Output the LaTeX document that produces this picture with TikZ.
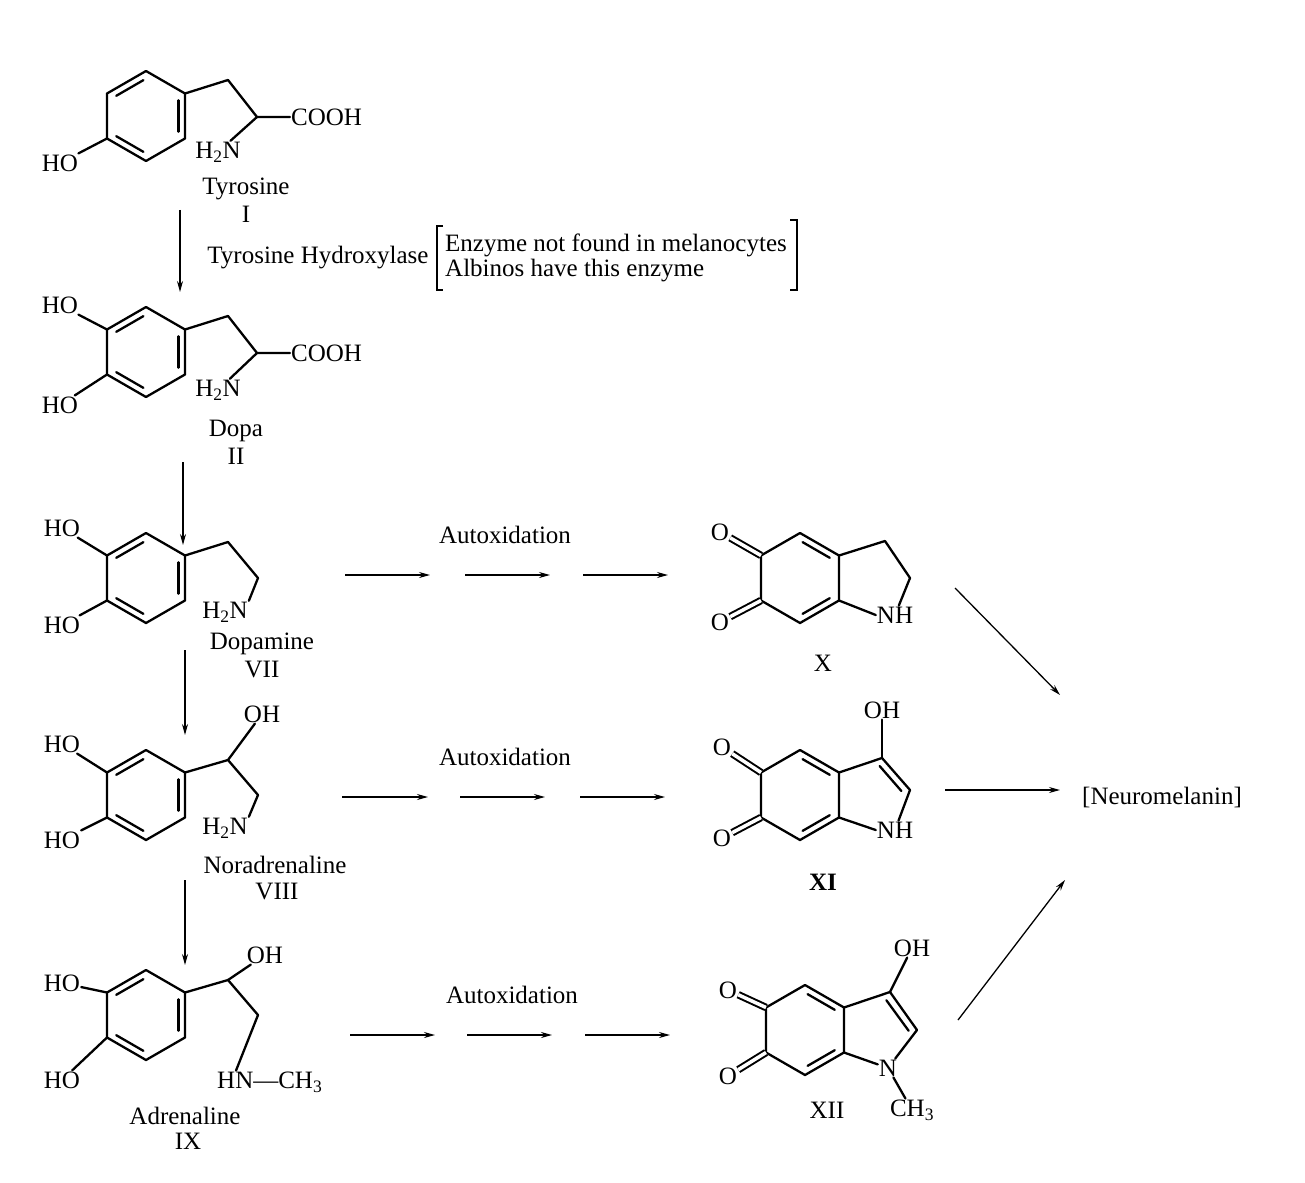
\documentclass[tikz,border=0pt]{standalone}
\usepackage{fontspec}
\setmainfont{Liberation Serif}
\usetikzlibrary{calc,arrows.meta}
\newcommand\mkring[3]{%
 \coordinate (#1-c) at (#2,#3);
 \coordinate (#1-1) at (#2,{#3-45});
 \coordinate (#1-2) at ({#2+39},{#3-22.5});
 \coordinate (#1-3) at ({#2+39},{#3+22.5});
 \coordinate (#1-4) at (#2,{#3+45});
 \coordinate (#1-5) at ({#2-39},{#3+22.5});
 \coordinate (#1-6) at ({#2-39},{#3-22.5});
 \draw[bond] (#1-1)--(#1-2)--(#1-3)--(#1-4)--(#1-5)--(#1-6)--cycle;}
\newcommand\inner[3]{\draw[bond,shorten <=3pt,shorten >=3pt] ($(#1-#2)!0.17!(#1-c)$)--($(#1-#3)!0.17!(#1-c)$);}
\newcommand\benz[1]{\inner{#1}{6}{1}\inner{#1}{2}{3}\inner{#1}{4}{5}}
\newcommand\quin[1]{\inner{#1}{1}{2}\inner{#1}{3}{4}}
\begin{document}
\begin{tikzpicture}[x=1pt,y=-1pt,
 bond/.style={line width=2.3pt,line cap=round,line join=round},
 dbl/.style={line width=2pt,double=white,double distance=3.5pt},
 arr/.style={line width=1.3pt,-{Stealth[length=11pt,width=6pt]}},
 every node/.style={font=\fontsize{25}{27}\selectfont,inner sep=2pt},
 lbl/.style={inner sep=1pt},
 captxt/.style={inner sep=0pt}]
\useasboundingbox (0,0) rectangle (1305,1182);
\fill[white] (0,0) rectangle (1305,1182);
% ---------- I Tyrosine
\mkring{A}{146}{116}\benz{A}
\node[lbl] (aho) at (60,163) {HO};
\draw[bond] (A-5)--(aho);
\coordinate (a1) at (228,80); \coordinate (a2) at (257,117);
\node[lbl,anchor=west] (acooh) at (290,117) {COOH};
\node[lbl] (anh) at (218,152) {H\textsubscript{2}N};
\draw[bond] (A-2)--(a1)--(a2)--(acooh.west);
\draw[bond] (a2)--(anh);
\node[captxt] (tyr) at (246,189) {Tyrosine};
\node[captxt] (tyri) at (246,214) {I};
% ---------- II Dopa
\mkring{B}{146}{352}\benz{B}
\node[lbl] (bho1) at (60,305) {HO};
\node[lbl] (bho2) at (60,405) {HO};
\draw[bond] (B-6)--(bho1); \draw[bond] (B-5)--(bho2);
\coordinate (b1) at (228,316); \coordinate (b2) at (257,353);
\node[lbl,anchor=west] (bcooh) at (290,353) {COOH};
\node[lbl] (bnh) at (218,390) {H\textsubscript{2}N};
\draw[bond] (B-2)--(b1)--(b2)--(bcooh.west);
\draw[bond] (b2)--(bnh);
\node[captxt] (dopa) at (236,431) {Dopa};
\node[captxt] (dopai) at (236,456) {II};
% ---------- VII Dopamine
\mkring{C}{146}{578}\benz{C}
\node[lbl] (cho1) at (62,528) {HO};
\node[lbl] (cho2) at (62,625) {HO};
\draw[bond] (C-6)--(cho1); \draw[bond] (C-5)--(cho2);
\coordinate (c1) at (228,542); \coordinate (c2) at (258,578);
\node[lbl] (cnh) at (225,612) {H\textsubscript{2}N};
\draw[bond] (C-2)--(c1)--(c2)--(cnh.north east);
\node[captxt] (dpm) at (262,644) {Dopamine};
\node[captxt] (dpmi) at (262,669) {VII};
% ---------- VIII Noradrenaline
\mkring{D}{146}{795}\benz{D}
\node[lbl] (dho1) at (62,744) {HO};
\node[lbl] (dho2) at (62,840) {HO};
\draw[bond] (D-6)--(dho1); \draw[bond] (D-5)--(dho2);
\coordinate (d1) at (228,760); \coordinate (d2) at (258,795);
\node[lbl] (doh) at (262,714) {OH};
\node[lbl] (dnh) at (225,828) {H\textsubscript{2}N};
\draw[bond] (D-2)--(d1)--(d2)--(dnh.north east);
\draw[bond] (d1)--(doh);
\node[captxt] (nor) at (275,865) {Noradrenaline};
\node[captxt] (nori) at (277,891) {VIII};
% ---------- IX Adrenaline
\mkring{E}{146}{1015}\benz{E}
\node[lbl] (eho1) at (62,983) {HO};
\node[lbl] (eho2) at (62,1080) {HO};
\draw[bond] (E-6)--(eho1); \draw[bond] (E-5)--(eho2);
\coordinate (e1) at (228,980); \coordinate (e2) at (258,1015);
\node[lbl] (eoh) at (265,955) {OH};
\node[lbl,anchor=west] (enh) at (216,1082) {HN---CH\textsubscript{3}};
\draw[bond] (E-2)--(e1)--(e2)--($(enh.north west)+(20,0)$);
\draw[bond] (e1)--(eoh);
\node[captxt] (adr) at (185,1116) {Adrenaline};
\node[captxt] (adri) at (188,1141) {IX};
% ---------- vertical arrows
\coordinate (v1a) at (180,210); \coordinate (v1b) at (180,292);
\coordinate (v2a) at (183,462); \coordinate (v2b) at (183,545);
\coordinate (v3a) at (185,650); \coordinate (v3b) at (185,735);
\coordinate (v4a) at (185,880); \coordinate (v4b) at (185,965);
\draw[arr] (v1a)--(v1b); \draw[arr] (v2a)--(v2b);
\draw[arr] (v3a)--(v3b); \draw[arr] (v4a)--(v4b);
% enzyme
\node (th) at (318,258) {Tyrosine Hydroxylase};
\node[anchor=west] (en1) at (443,245) {Enzyme not found in melanocytes};
\node[anchor=west] (en2) at (443,271) {Albinos have this enzyme};
\draw[line width=1.4pt] (443,226)--(437,226)--(437,290)--(443,290);
\draw[line width=1.4pt] (790,220)--(797,220)--(797,290)--(790,290);
% ---------- X
\mkring{X}{800}{578}\quin{X}
\node[lbl] (xo1) at (720,532) {O}; \node[lbl] (xo2) at (720,622) {O};
\draw[dbl] (X-6)--(xo1); \draw[dbl] (X-5)--(xo2);
\coordinate (x1) at (885,541); \coordinate (x2) at (910,578);
\node[lbl] (xnh) at (895,615) {NH};
\draw[bond] (X-2)--(x1)--(x2)--(xnh);
\draw[bond] (X-3)--(xnh.west);
\node (xl) at (823,663) {X};
% ---------- XI
\mkring{Y}{800}{795}\quin{Y}
\node[lbl] (yo1) at (722,747) {O}; \node[lbl] (yo2) at (722,838) {O};
\draw[dbl] (Y-6)--(yo1); \draw[dbl] (Y-5)--(yo2);
\coordinate (y1) at (882,758); \coordinate (y2) at (910,790);
\node[lbl] (yoh) at (882,710) {OH};
\node[lbl] (ynh) at (895,830) {NH};
\draw[bond] (Y-2)--(y1)--(y2)--(ynh);
\draw[bond,shorten <=4pt,shorten >=4pt] ($(y1)+(-5,5)$)--($(y2)+(-6,4)$);
\draw[bond] (y1)--(yoh);
\draw[bond] (Y-3)--(ynh.west);
\node[font=\fontsize{25}{27}\selectfont\bfseries] (yl) at (823,882) {XI};
% ---------- XII
\mkring{Z}{805}{1030}\quin{Z}
\node[lbl] (zo1) at (728,990) {O}; \node[lbl] (zo2) at (728,1076) {O};
\draw[dbl] (Z-6)--(zo1); \draw[dbl] (Z-5)--(zo2);
\coordinate (z1) at (890,992); \coordinate (z2) at (917,1030);
\node[lbl] (zoh) at (912,948) {OH};
\node[lbl] (zn) at (888,1068) {N};
\node[lbl] (zch) at (912,1110) {CH\textsubscript{3}};
\draw[bond] (Z-2)--(z1)--(z2)--(zn);
\draw[bond,shorten <=4pt,shorten >=4pt] ($(z1)+(-6,5)$)--($(z2)+(-6,4)$);
\draw[bond] (z1)--(zoh);
\draw[bond] (Z-3)--(zn);
\draw[bond] (zn)--(zch);
\node (zl) at (827,1110) {XII};
% ---------- horizontal arrows
\node (ax1) at (505,535) {Autoxidation};
\node (ax2) at (505,757) {Autoxidation};
\node (ax3) at (512,995) {Autoxidation};
\foreach \y/\a/\b/\c/\d/\e/\f in {575/345/430/465/550/583/668, 797/342/428/460/545/580/665, 1035/350/435/467/552/585/670}{
 \draw[arr] (\a,\y)--(\b,\y); \draw[arr] (\c,\y)--(\d,\y); \draw[arr] (\e,\y)--(\f,\y);}
% ---------- neuromelanin
\node (nm) at (1162,797) {[Neuromelanin]};
\coordinate (n1a) at (955,588); \coordinate (n1b) at (1060,695);
\coordinate (n2a) at (945,790); \coordinate (n2b) at (1060,790);
\coordinate (n3a) at (958,1020); \coordinate (n3b) at (1065,880);
\draw[arr] (n1a)--(n1b); \draw[arr] (n2a)--(n2b); \draw[arr] (n3a)--(n3b);
\end{tikzpicture}
\end{document}
